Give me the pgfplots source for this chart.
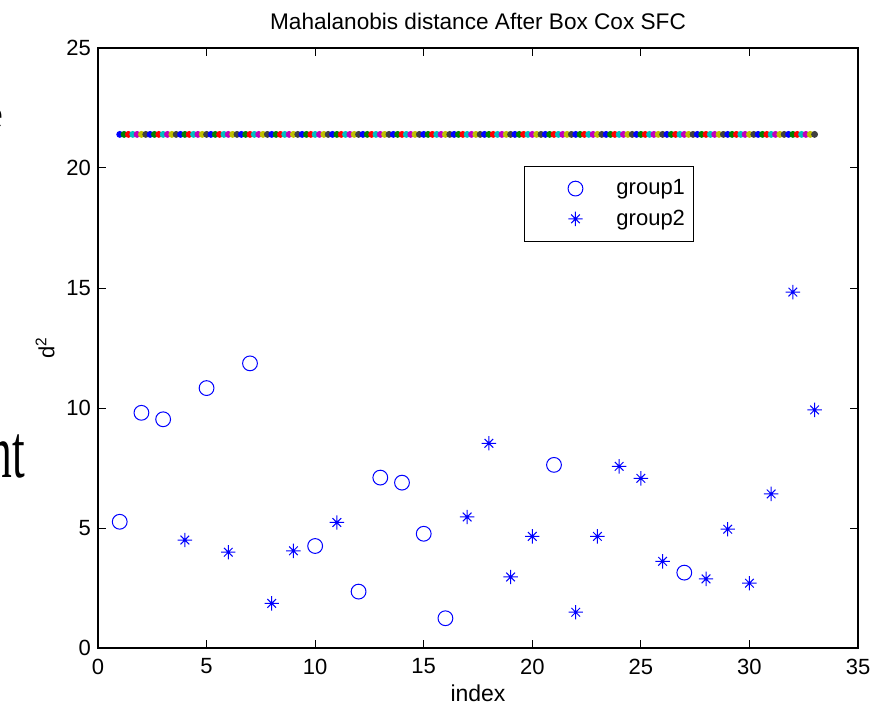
\documentclass[border=0pt]{standalone}
\usepackage{pgfplots}
\pgfplotsset{compat=1.18}
\usepackage{fontspec}
\setmainfont{Liberation Sans}
\newfontfamily\serif{Liberation Serif}
\definecolor{mA}{rgb}{0,0,1}
\definecolor{mB}{rgb}{0,0.5,0}
\definecolor{mC}{rgb}{1,0,0}
\definecolor{mD}{rgb}{0,0.75,0.75}
\definecolor{mE}{rgb}{0.75,0,0.75}
\definecolor{mF}{rgb}{0.75,0.75,0}
\definecolor{mG}{rgb}{0.25,0.25,0.25}
\pgfdeclareplotmark{mstar}{%
  \pgfpathmoveto{\pgfpoint{-\pgfplotmarksize}{0pt}}\pgfpathlineto{\pgfpoint{\pgfplotmarksize}{0pt}}%
  \pgfpathmoveto{\pgfpoint{0pt}{-\pgfplotmarksize}}\pgfpathlineto{\pgfpoint{0pt}{\pgfplotmarksize}}%
  \pgfpathmoveto{\pgfpoint{-0.6\pgfplotmarksize}{-0.6\pgfplotmarksize}}\pgfpathlineto{\pgfpoint{0.6\pgfplotmarksize}{0.6\pgfplotmarksize}}%
  \pgfpathmoveto{\pgfpoint{-0.6\pgfplotmarksize}{0.6\pgfplotmarksize}}\pgfpathlineto{\pgfpoint{0.6\pgfplotmarksize}{-0.6\pgfplotmarksize}}%
  \pgfusepathqstroke}
\begin{document}
\begin{tikzpicture}[x=1pt,y=1pt]
\begin{axis}[
  at={(49pt,29.5pt)}, anchor=south west,
  width=380pt, height=300pt, scale only axis,
  xmin=0, xmax=35, ymin=0, ymax=25,
  xtick={0,5,...,35}, ytick={0,5,...,25},
  tick align=inside,
  major tick length=4pt,
  axis line style={line width=0.7pt},
  every tick/.style={black, line width=0.5pt},
  /pgf/number format/assume math mode=true,
  ticklabel style={font=\fontsize{11}{13}\selectfont},
  xticklabel style={yshift=-1.8pt},
  title={Mahalanobis distance After Box Cox SFC},
  title style={at={(axis description cs:0.5,1)}, anchor=base, yshift=3pt, font=\fontsize{11.3}{13}\selectfont},
  xlabel={index},
  every axis x label/.style={at={(axis description cs:0.5,-0.075)}, anchor=center, font=\fontsize{11.5}{13}\selectfont},
  ylabel={d\textsuperscript{2}},
  every axis y label/.style={at={(axis description cs:-0.0697,0.5)}, anchor=center, rotate=90, font=\fontsize{11}{13}\selectfont},
  legend style={at={(rel axis cs:0.5605,0.8033)}, anchor=north west, draw=black, line width=0.5pt,
    inner xsep=2.5pt, inner ysep=4.5pt, row sep=2pt, font=\fontsize{11}{13}\selectfont, cells={anchor=west}},
  legend image code/.code={\path[draw=none,fill=none] (0pt,0pt) -- (41.5pt,0pt); \draw[#1] plot coordinates {(23pt,0pt)};},
]
\addplot[only marks, mark=o, mark size=3.7pt, color=blue, line width=0.5pt]
  coordinates {(1,5.26)(2,9.80)(3,9.53)(5,10.83)(7,11.86)(10,4.25)(12,2.35)(13,7.10)(14,6.89)(15,4.76)(16,1.24)(21,7.63)(27,3.14)};
\addlegendentry{group1}
\addplot[only marks, mark=mstar, mark size=3.6pt, color=blue, line width=0.5pt]
  coordinates {(4,4.50)(6,3.99)(8,1.86)(9,4.05)(11,5.23)(17,5.46)(18,8.53)(19,2.96)(20,4.65)(22,1.49)(23,4.65)(24,7.57)(25,7.07)(26,3.61)(28,2.88)(29,4.95)(30,2.70)(31,6.42)(32,14.83)(33,9.92)};
\addlegendentry{group2}
\addplot[forget plot, scatter, only marks, mark=*, mark size=1.5pt, scatter src=explicit symbolic,
  scatter/classes={a={mark=*,draw=mA,fill=mA}, b={mark=*,draw=mB,fill=mB}, c={mark=*,draw=mC,fill=mC},
    d={mark=*,draw=mD,fill=mD}, e={mark=*,draw=mE,fill=mE}, f={mark=*,draw=mF,fill=mF}, g={mark=*,draw=mG,fill=mG}}]
  coordinates {
(1.0,21.4)[a] (1.2,21.4)[b] (1.4,21.4)[c] (1.6,21.4)[d] (1.8,21.4)[e] (2.0,21.4)[f] (2.2,21.4)[g]
(2.4,21.4)[a] (2.6,21.4)[b] (2.8,21.4)[c] (3.0,21.4)[d] (3.2,21.4)[e] (3.4,21.4)[f] (3.6,21.4)[g]
(3.8,21.4)[a] (4.0,21.4)[b] (4.2,21.4)[c] (4.4,21.4)[d] (4.6,21.4)[e] (4.8,21.4)[f] (5.0,21.4)[g]
(5.2,21.4)[a] (5.4,21.4)[b] (5.6,21.4)[c] (5.8,21.4)[d] (6.0,21.4)[e] (6.2,21.4)[f] (6.4,21.4)[g]
(6.6,21.4)[a] (6.8,21.4)[b] (7.0,21.4)[c] (7.2,21.4)[d] (7.4,21.4)[e] (7.6,21.4)[f] (7.8,21.4)[g]
(8.0,21.4)[a] (8.2,21.4)[b] (8.4,21.4)[c] (8.6,21.4)[d] (8.8,21.4)[e] (9.0,21.4)[f] (9.2,21.4)[g]
(9.4,21.4)[a] (9.6,21.4)[b] (9.8,21.4)[c] (10.0,21.4)[d] (10.2,21.4)[e] (10.4,21.4)[f] (10.6,21.4)[g]
(10.8,21.4)[a] (11.0,21.4)[b] (11.2,21.4)[c] (11.4,21.4)[d] (11.6,21.4)[e] (11.8,21.4)[f] (12.0,21.4)[g]
(12.2,21.4)[a] (12.4,21.4)[b] (12.6,21.4)[c] (12.8,21.4)[d] (13.0,21.4)[e] (13.2,21.4)[f] (13.4,21.4)[g]
(13.6,21.4)[a] (13.8,21.4)[b] (14.0,21.4)[c] (14.2,21.4)[d] (14.4,21.4)[e] (14.6,21.4)[f] (14.8,21.4)[g]
(15.0,21.4)[a] (15.2,21.4)[b] (15.4,21.4)[c] (15.6,21.4)[d] (15.8,21.4)[e] (16.0,21.4)[f] (16.2,21.4)[g]
(16.4,21.4)[a] (16.6,21.4)[b] (16.8,21.4)[c] (17.0,21.4)[d] (17.2,21.4)[e] (17.4,21.4)[f] (17.6,21.4)[g]
(17.8,21.4)[a] (18.0,21.4)[b] (18.2,21.4)[c] (18.4,21.4)[d] (18.6,21.4)[e] (18.8,21.4)[f] (19.0,21.4)[g]
(19.2,21.4)[a] (19.4,21.4)[b] (19.6,21.4)[c] (19.8,21.4)[d] (20.0,21.4)[e] (20.2,21.4)[f] (20.4,21.4)[g]
(20.6,21.4)[a] (20.8,21.4)[b] (21.0,21.4)[c] (21.2,21.4)[d] (21.4,21.4)[e] (21.6,21.4)[f] (21.8,21.4)[g]
(22.0,21.4)[a] (22.2,21.4)[b] (22.4,21.4)[c] (22.6,21.4)[d] (22.8,21.4)[e] (23.0,21.4)[f] (23.2,21.4)[g]
(23.4,21.4)[a] (23.6,21.4)[b] (23.8,21.4)[c] (24.0,21.4)[d] (24.2,21.4)[e] (24.4,21.4)[f] (24.6,21.4)[g]
(24.8,21.4)[a] (25.0,21.4)[b] (25.2,21.4)[c] (25.4,21.4)[d] (25.6,21.4)[e] (25.8,21.4)[f] (26.0,21.4)[g]
(26.2,21.4)[a] (26.4,21.4)[b] (26.6,21.4)[c] (26.8,21.4)[d] (27.0,21.4)[e] (27.2,21.4)[f] (27.4,21.4)[g]
(27.6,21.4)[a] (27.8,21.4)[b] (28.0,21.4)[c] (28.2,21.4)[d] (28.4,21.4)[e] (28.6,21.4)[f] (28.8,21.4)[g]
(29.0,21.4)[a] (29.2,21.4)[b] (29.4,21.4)[c] (29.6,21.4)[d] (29.8,21.4)[e] (30.0,21.4)[f] (30.2,21.4)[g]
(30.4,21.4)[a] (30.6,21.4)[b] (30.8,21.4)[c] (31.0,21.4)[d] (31.2,21.4)[e] (31.4,21.4)[f] (31.6,21.4)[g]
(31.8,21.4)[a] (32.0,21.4)[b] (32.2,21.4)[c] (32.4,21.4)[d] (32.6,21.4)[e] (32.8,21.4)[f] (33.0,21.4)[g]
};
\end{axis}
\node[anchor=base east, inner sep=0pt, xscale=0.6, font=\serif\fontsize{38}{40}\selectfont] at (12.8,115) {nt};
\node[anchor=base east, inner sep=0pt, font=\serif\fontsize{20}{22}\selectfont] at (2,289.5) {e};
\pgfresetboundingbox
\useasboundingbox (0,0) rectangle (441,353.5);
\end{tikzpicture}
\end{document}
